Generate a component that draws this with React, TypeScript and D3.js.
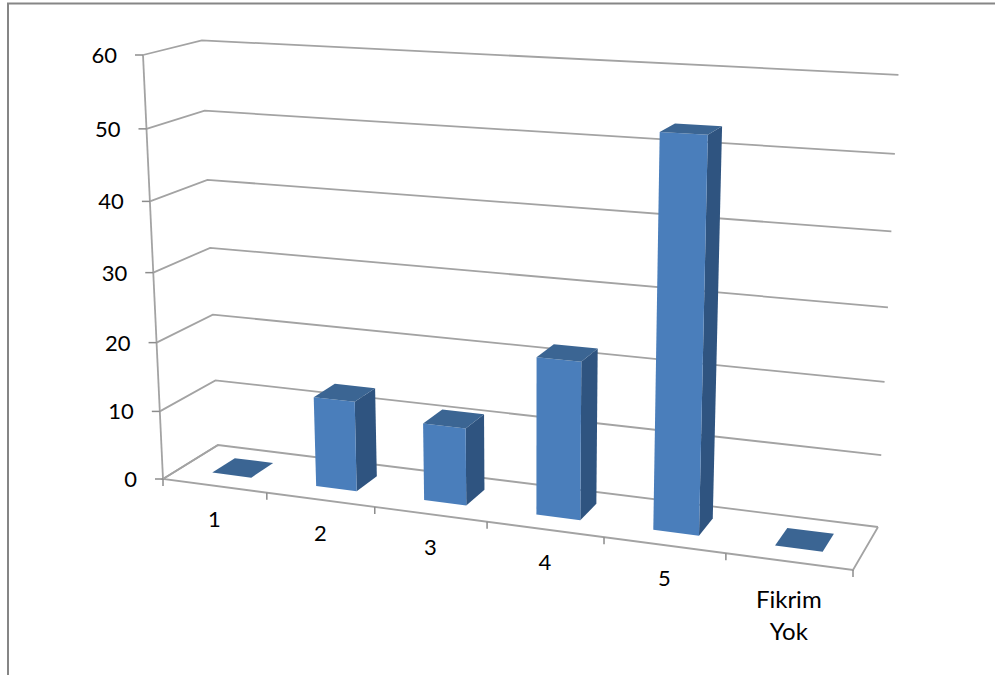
import React from "react";
import * as d3 from "d3";

// Survey answers and the percentage that chose each one
const categories = ["1", "2", "3", "4", "5", "Fikrim Yok"];
const shares = [0, 13, 11, 22, 53, 0];
const valueTicks = [0, 10, 20, 30, 40, 50, 60];

type Pt = [number, number];

// Corners of the plot floor: front-left, front-right, back-right, back-left
const floorQuad: Pt[] = [[163, 479], [853, 570], [878, 527], [218, 445]];
// Where the top of the value axis lands, and how strongly height foreshortens
const axisTop: Pt = [143, 55];
const heightPerspective = -0.0518;
const depthFront = 0.3;
const depthBack = 0.72;

// Projective map from the unit square onto the floor, keeping the homogeneous weight
function squareToQuad(q: Pt[]) {
  const [[x0, y0], [x1, y1], [x2, y2], [x3, y3]] = q;
  const dx1 = x1 - x2, dx2 = x3 - x2, sx = x0 - x1 + x2 - x3;
  const dy1 = y1 - y2, dy2 = y3 - y2, sy = y0 - y1 + y2 - y3;
  const den = dx1 * dy2 - dx2 * dy1;
  const g = (sx * dy2 - dx2 * sy) / den;
  const h = (dx1 * sy - sx * dy1) / den;
  const a = x1 - x0 + g * x1, b = x3 - x0 + h * x3;
  const d = y1 - y0 + g * y1, e = y3 - y0 + h * y3;
  return (u: number, v: number) => {
    const w = g * u + h * v + 1;
    return { x: (a * u + b * v + x0) / w, y: (d * u + e * v + y0) / w, w };
  };
}

const onFloor = squareToQuad(floorQuad);
const rise = d3.scaleLinear().domain([0, 60]).range([0, 1]);
const k = heightPerspective;
const liftX = axisTop[0] * (1 + k) - floorQuad[0][0];
const liftY = axisTop[1] * (1 + k) - floorQuad[0][1];

// u runs along the categories, v into the depth, value up the wall
function project(u: number, v: number, value: number): Pt {
  const t = rise(value);
  const f = onFloor(u, v);
  const w = f.w + k * t;
  return [(f.x * f.w + liftX * t) / w, (f.y * f.w + liftY * t) / w];
}

const band = d3.scaleBand<string>().domain(categories).range([0.003, 1]).paddingInner(0.62).paddingOuter(0.3);
const slot = d3.scaleLinear().domain([0, categories.length]).range([0, 1]);
const path = d3.line<Pt>();
const closed = (pts: Pt[]) => path(pts) + "Z";

const gridColor = "#a3a3a3";
const tickColor = "#8c8c8c";
const font = "Lato, Carlito, sans-serif";

export default function App() {
  const barWidth = band.bandwidth();
  return (
    <svg width={995} height={675} style={{ position: "absolute", left: 0, top: 0, display: "block", background: "#fff" }}>
      {/* outer frame, open on the right and at the bottom */}
      <path d="M8,675V3.5H995" fill="none" stroke="#868686" strokeWidth={2} />

      {/* wall gridlines */}
      {valueTicks.map((t) => (
        <path
          key={t}
          d={path([project(0, 0, t), project(0, 1, t), project(1, 1, t)]) as string}
          fill="none"
          stroke={gridColor}
          strokeWidth={1.8}
        />
      ))}

      {/* floor outline */}
      <path d={path([project(0, 1, 0), project(0, 0, 0), project(1, 0, 0), project(1, 1, 0)]) as string} fill="none" stroke={gridColor} strokeWidth={1.8} />

      {/* value axis and its ticks */}
      <path d={path([project(0, 0, 0), project(0, 0, 60)]) as string} fill="none" stroke={gridColor} strokeWidth={1.8} />
      {valueTicks.map((t) => {
        const [x, y] = project(0, 0, t);
        return (
          <g key={t}>
            <line x1={x - 8} x2={x} y1={y} y2={y} stroke={tickColor} strokeWidth={1.5} />
            <text x={x - 26} y={y + 8} textAnchor="end" fontFamily={font} fontSize={22} fill="#000">{t}</text>
          </g>
        );
      })}

      {/* category ticks along the front edge */}
      {d3.range(categories.length + 1).map((i) => {
        const [x, y] = project(slot(i), 0, 0);
        return <line key={i} x1={x} x2={x} y1={y} y2={y + 7} stroke={tickColor} strokeWidth={1.5} />;
      })}

      {/* columns, each with its front, side and top */}
      {categories.map((c, i) => {
        const u0 = band(c) as number, u1 = u0 + barWidth, h = shares[i];
        const fl0 = project(u0, depthFront, 0), fr0 = project(u1, depthFront, 0), br0 = project(u1, depthBack, 0);
        const fl = project(u0, depthFront, h), fr = project(u1, depthFront, h), br = project(u1, depthBack, h), bl = project(u0, depthBack, h);
        return (
          <g key={c}>
            {h > 0 && <path d={closed([fr0, br0, br, fr])} fill="#2f5480" />}
            {h > 0 && <path d={closed([fl0, fr0, fr, fl])} fill="#4a7ebb" />}
            <path d={closed([fl, fr, br, bl])} fill="#3b6593" />
          </g>
        );
      })}

      {/* category labels below the front edge; the two-word one is set slightly larger */}
      {categories.map((c, i) => {
        const [x, y] = project(slot(i + 0.5), 0, 0);
        const lines = c.split(" ");
        const wrapped = lines.length > 1;
        return (
          <text key={c} x={x} y={y + (wrapped ? 46 : 41)} textAnchor="middle" fontFamily={font} fontSize={wrapped ? 24 : 22} fill="#000">
            {lines.map((l, n) => (
              <tspan key={l} x={x} dy={n === 0 ? 0 : 32}>{l}</tspan>
            ))}
          </text>
        );
      })}
    </svg>
  );
}
